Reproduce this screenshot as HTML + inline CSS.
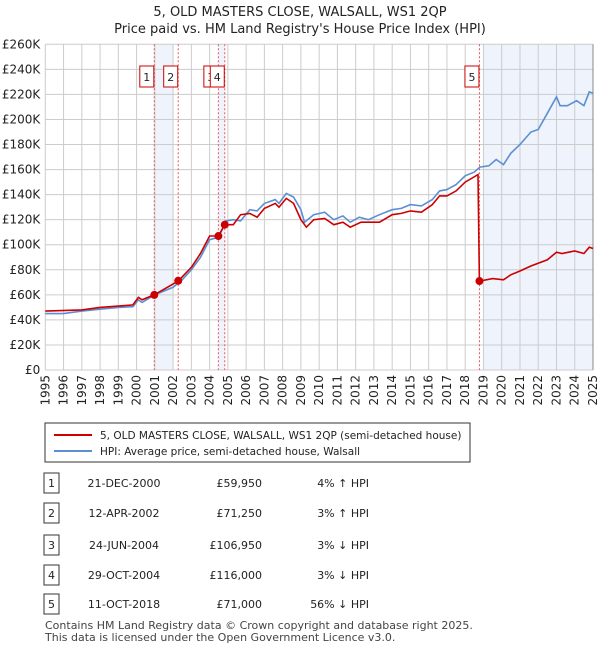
<!DOCTYPE html>
<html><head><meta charset="utf-8"><style>
body{margin:0;background:#fff;font-family:"Liberation Sans","DejaVu Sans",sans-serif;}
svg text{font-family:"DejaVu Sans","Liberation Sans",sans-serif;}
</style></head><body>
<svg id="c" width="600" height="650" xmlns="http://www.w3.org/2000/svg">
<text x="300" y="16" text-anchor="middle" font-size="13" fill="#222">5, OLD MASTERS CLOSE, WALSALL, WS1 2QP</text>
<text x="300" y="33" text-anchor="middle" font-size="13" fill="#222">Price paid vs. HM Land Registry's House Price Index (HPI)</text>
<g id="plot"></g>
<g>
<rect x="45" y="423" width="425" height="39" fill="#fff" stroke="#333" stroke-width="1"/>
<line x1="54" y1="435" x2="92" y2="435" stroke="#cc0000" stroke-width="2"/>
<text x="100" y="439" font-size="10.5" fill="#222">5, OLD MASTERS CLOSE, WALSALL, WS1 2QP (semi-detached house)</text>
<line x1="54" y1="451" x2="92" y2="451" stroke="#5b8fd4" stroke-width="2"/>
<text x="100" y="455" font-size="10.5" fill="#222">HPI: Average price, semi-detached house, Walsall</text>
</g>
<g id="table" font-size="11" fill="#222"></g>
<text x="45" y="629" font-size="11" fill="#444">Contains HM Land Registry data © Crown copyright and database right 2025.</text>
<text x="45" y="641" font-size="11" fill="#444">This data is licensed under the Open Government Licence v3.0.</text>
</svg>
<script>
const hpiYears=[1995,1996,1997,1998,1999,1999.8,2000.1,2000.3,2001,2002,2002.5,2003,2003.5,2004,2004.5,2004.9,2005.3,2005.7,2006.2,2006.6,2007,2007.6,2007.8,2008.2,2008.6,2009,2009.2,2009.7,2010.3,2010.8,2011.3,2011.7,2012.2,2012.7,2013.3,2014,2014.5,2015,2015.6,2016.2,2016.6,2017,2017.5,2018,2018.5,2018.8,2019.3,2019.7,2020.1,2020.5,2021,2021.6,2022,2022.5,2023,2023.2,2023.6,2024.1,2024.5,2024.8,2025];
const hpiValues=[45,45,47,48.5,50,50.5,56,54,60,66,72,80,90,104,106,119,120,119,128,127,133,136,133,141,138,128,118,124,126,120,123,118,122,120,124,128,129,132,131,136,143,144,148,155,158,162,163,168,164,173,180,190,192,205,218,211,211,215,211,222,221];
const ppYears=[1995,1997,1998,1999,1999.8,2000.1,2000.3,2000.97,2002.28,2003,2003.5,2004,2004.48,2004.83,2005.3,2005.7,2006.2,2006.6,2007,2007.6,2007.8,2008.2,2008.6,2009,2009.3,2009.7,2010.3,2010.8,2011.3,2011.7,2012.3,2013.3,2014,2014.5,2015,2015.6,2016.2,2016.6,2017,2017.5,2018,2018.7,2018.78,2019.5,2020.1,2020.5,2021,2021.6,2022.5,2023,2023.3,2024,2024.5,2024.8,2025];
const ppValues=[47,48,50,51,52,58,56,60,71,82,93,107,107,116,116,124,125,122,129,133,130,137,133,120,114,120,121,116,118,114,118,118,124,125,127,126,132,139,139,143,150,156,71,73,72,76,79,83,88,94,93,95,93,98,97];
const saleLabels=["1","2","3","4","5"];
const saleYears=[2000.97,2002.28,2004.48,2004.83,2018.78];
const saleValues=[59.95,71.25,106.95,116,71];
const saleDates=["21-DEC-2000","12-APR-2002","24-JUN-2004","29-OCT-2004","11-OCT-2018"];
const salePrices=["£59,950","£71,250","£106,950","£116,000","£71,000"];
const saleHpi=["4% ↑ HPI","3% ↑ HPI","3% ↓ HPI","3% ↓ HPI","56% ↓ HPI"];
const yTicks=[0,20,40,60,80,100,120,140,160,180,200,220,240,260];
const xTicks=[1995,1996,1997,1998,1999,2000,2001,2002,2003,2004,2005,2006,2007,2008,2009,2010,2011,2012,2013,2014,2015,2016,2017,2018,2019,2020,2021,2022,2023,2024,2025];

const X0=45.3,X1=593,Y0=370,Y1=44.3;
const xs=y=>X0+(y-1995)/30*(X1-X0);
const ys=v=>Y0-v/260*(Y0-Y1);
const NS="http://www.w3.org/2000/svg";
const plot=document.getElementById('plot');
function mk(tag,attrs,parent){const e=document.createElementNS(NS,tag);for(const k in attrs)e.setAttribute(k,attrs[k]);(parent||plot).appendChild(e);return e;}

[[2001,2002],[2004.48,2004.83],[2019,2025]].forEach(s=>{
 const r=mk('rect',{x:xs(s[0]),y:Y1,width:xs(s[1])-xs(s[0]),height:Y0-Y1,fill:'#eef3fc'});
 
 
});
yTicks.forEach(t=>{
 const l=mk('line',{x1:X0,x2:X1,y1:ys(t),y2:ys(t),stroke:'#cccccc','stroke-width':1});
 
 
 const tx=mk('text',{x:X0-5,y:ys(t)+4,'text-anchor':'end','font-size':12,fill:'#222'});
 tx.textContent=t===0?'£0':'£'+t+'K';
 
 
});
xTicks.forEach(t=>{
 const l=mk('line',{x1:xs(t),x2:xs(t),y1:Y1,y2:Y0,stroke:'#cccccc','stroke-width':1});
 
 
 const tx=mk('text',{x:0,y:0,'text-anchor':'end','font-size':12,fill:'#222',transform:`translate(${xs(t)+4},${Y0+5}) rotate(-90)`});
 tx.textContent=t;
 
 
});
mk('line',{x1:X1,x2:X1,y1:Y1,y2:Y0,stroke:'#888','stroke-width':1});
saleYears.forEach(y=>{
 const l=mk('line',{x1:xs(y),x2:xs(y),y1:Y1,y2:Y0,stroke:'#ee5555','stroke-width':1,'stroke-dasharray':'2,2'});
 
 
});
function pathOf(xa,va){return xa.map((y,i)=>(i?'L':'M')+xs(y).toFixed(1)+','+ys(va[i]).toFixed(1)).join('');}
const hp=mk('path',{d:pathOf(hpiYears,hpiValues),fill:'none',stroke:'#5b8fd4','stroke-width':1.6});


const pp=mk('path',{d:pathOf(ppYears,ppValues),fill:'none',stroke:'#cc0000','stroke-width':1.6});


saleYears.forEach((y,i)=>{
 const c=mk('circle',{cx:xs(y),cy:ys(saleValues[i]),r:4,fill:'#cc0000'});
 
 
});
saleYears.forEach((y,i)=>{
 const g=mk('g',{});
 
 
 mk('rect',{x:xs(y)-14.5,y:66,width:14,height:21,fill:'#fff',stroke:'#cc0000','stroke-width':1},g);
 const t=mk('text',{x:xs(y)-7.5,y:81,'text-anchor':'middle','font-size':11,fill:'#222'},g);
 t.textContent=saleLabels[i];
});
const tb=document.getElementById('table');
const rowY=[483,513,545,575,604];
saleLabels.forEach((s,i)=>{
 const g=mk('g',{},tb);
 
 
 const y=rowY[i];
 mk('rect',{x:44,y:y-10,width:15,height:20,fill:'#fff',stroke:'#333','stroke-width':1},g);
 let t=mk('text',{x:51.5,y:y+4,'text-anchor':'middle','font-size':11},g);t.textContent=s;
 t=mk('text',{x:124,y:y+4,'text-anchor':'middle','font-size':11},g);t.textContent=saleDates[i];
 t=mk('text',{x:262,y:y+4,'text-anchor':'end','font-size':11},g);t.textContent=salePrices[i];
 t=mk('text',{x:369,y:y+4,'text-anchor':'end','font-size':11},g);t.textContent=saleHpi[i];
});
</script>
</body></html>
